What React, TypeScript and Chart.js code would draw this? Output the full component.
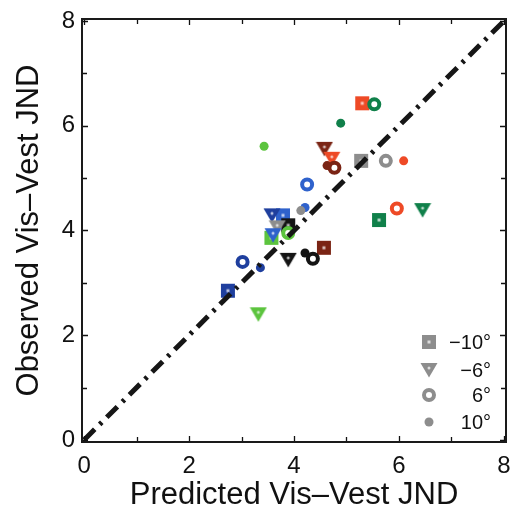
import React, { useEffect, useRef } from 'react';
import { Chart, registerables } from 'chart.js';

Chart.register(...registerables);

// ---------- data ----------
const axisMin = -0.04;
const axisMax = 8.04;
const majorTicks = [0, 2, 4, 6, 8];
const minorTicks = [1, 3, 5, 7];
const xTitle = 'Predicted Vis–Vest JND';
const yTitle = 'Observed Vis–Vest JND';
const legendLabels = ['−10°', '−6°', '6°', '10°'];

// subjects -> colours
const subjectColors: Record<string, string> = {
  red: '#ee4a26',
  maroon: '#7a2414',
  dkgreen: '#10804a',
  ltgreen: '#5cc43e',
  blue: '#2f62cc',
  navy: '#1f3f9e',
  gray: '#8d8d8d',
  black: '#141414',
};

// -10° (squares)
const sqX = [5.30, 5.28, 5.62, 4.57, 2.74, 3.79, 3.89, 3.57];
const sqY = [6.43, 5.33, 4.20, 3.67, 2.85, 4.29, 4.10, 3.86];
const sqSubj = ['red', 'gray', 'dkgreen', 'maroon', 'navy', 'blue', 'black', 'ltgreen'];

// -6° (down triangles)
const trX = [4.58, 4.72, 6.45, 3.32, 3.89, 3.58, 3.68, 3.60];
const trY = [5.56, 5.37, 4.39, 2.40, 3.44, 4.29, 4.06, 3.91];
const trSubj = ['maroon', 'red', 'dkgreen', 'ltgreen', 'black', 'navy', 'gray', 'blue'];

// 6° (rings)
const rgX = [5.53, 4.77, 5.75, 5.96, 4.25, 3.02, 3.89, 4.36];
const rgY = [6.41, 5.20, 5.33, 4.42, 4.88, 3.40, 3.95, 3.46];
const rgSubj = ['dkgreen', 'maroon', 'gray', 'red', 'blue', 'navy', 'ltgreen', 'black'];

// 10° (dots)
const dtX = [3.43, 4.89, 6.09, 4.21, 4.13, 3.36, 4.21, 4.63];
const dtY = [5.61, 6.05, 5.33, 4.44, 4.38, 3.29, 3.57, 5.24];
const dtSubj = ['ltgreen', 'dkgreen', 'red', 'blue', 'gray', 'navy', 'black', 'maroon'];

// unity line
const unityX = [0, 8];
const unityY = [0, 8];

// ---------- marker images ----------
function makeSquare(color: string): HTMLCanvasElement {
  const c = document.createElement('canvas');
  c.width = 16;
  c.height = 16;
  const g = c.getContext('2d')!;
  g.fillStyle = color;
  g.fillRect(1, 1, 14, 14);
  g.fillStyle = 'rgba(255,255,255,0.7)';
  g.fillRect(6.5, 6.5, 3, 3);
  return c;
}

function makeTriangle(color: string): HTMLCanvasElement {
  const c = document.createElement('canvas');
  c.width = 18;
  c.height = 16;
  const g = c.getContext('2d')!;
  g.fillStyle = color;
  g.beginPath();
  g.moveTo(0.5, 1);
  g.lineTo(17.5, 1);
  g.lineTo(9, 15.5);
  g.closePath();
  g.fill();
  g.fillStyle = 'rgba(255,255,255,0.7)';
  g.beginPath();
  g.arc(9, 6, 1.5, 0, Math.PI * 2);
  g.fill();
  return c;
}

const FONT = '"Liberation Sans", Arial, Helvetica, sans-serif';

export default function App() {
  const ref = useRef<HTMLCanvasElement | null>(null);

  useEffect(() => {
    const canvas = ref.current;
    if (!canvas) return;

    const sqImg: Record<string, HTMLCanvasElement> = {};
    const trImg: Record<string, HTMLCanvasElement> = {};
    Object.keys(subjectColors).forEach((k) => {
      sqImg[k] = makeSquare(subjectColors[k]);
      trImg[k] = makeTriangle(subjectColors[k]);
    });
    const legendGray = subjectColors.gray;
    const legSq = makeSquare(legendGray);
    const legTr = makeTriangle(legendGray);

    const pts = (xs: number[], ys: number[]) => xs.map((x, i) => ({ x, y: ys[i] }));

    const framePlugin = {
      id: 'frameTicks',
      afterDatasetsDraw(chart: any) {
        const { ctx, chartArea: a, scales } = chart;
        const xs = scales.x;
        const ys = scales.y;
        ctx.save();
        ctx.strokeStyle = '#111';
        ctx.lineWidth = 1.3;
        const drawTicks = (vals: number[], len: number) => {
          vals.forEach((v) => {
            const px = Math.round(xs.getPixelForValue(v)) + 0.5;
            const py = Math.round(ys.getPixelForValue(v)) + 0.5;
            ctx.beginPath();
            ctx.moveTo(px, a.bottom);
            ctx.lineTo(px, a.bottom - len);
            ctx.moveTo(px, a.top);
            ctx.lineTo(px, a.top + len);
            ctx.moveTo(a.left, py);
            ctx.lineTo(a.left + len, py);
            ctx.moveTo(a.right, py);
            ctx.lineTo(a.right - len, py);
            ctx.stroke();
          });
        };
        drawTicks(majorTicks, 6);
        drawTicks(minorTicks, 5);
        ctx.lineWidth = 2;
        ctx.strokeStyle = '#1a1a1a';
        ctx.strokeRect(a.left, a.top, a.right - a.left, a.bottom - a.top);

        // legend
        const mx = a.right - 77;
        const tx = a.right - 15;
        const rows = [a.bottom - 100, a.bottom - 72, a.bottom - 47, a.bottom - 20];
        ctx.drawImage(legSq, mx - legSq.width / 2, rows[0] - legSq.height / 2);
        ctx.drawImage(legTr, mx - legTr.width / 2, rows[1] - legTr.height / 2);
        ctx.beginPath();
        ctx.arc(mx, rows[2], 5, 0, Math.PI * 2);
        ctx.lineWidth = 4;
        ctx.strokeStyle = legendGray;
        ctx.stroke();
        ctx.beginPath();
        ctx.arc(mx, rows[3], 4.5, 0, Math.PI * 2);
        ctx.fillStyle = legendGray;
        ctx.fill();
        ctx.fillStyle = '#111';
        ctx.font = `20px ${FONT}`;
        ctx.textAlign = 'right';
        ctx.textBaseline = 'middle';
        legendLabels.forEach((t, i) => ctx.fillText(t, tx, rows[i] + 1));
        ctx.restore();
      },
    };

    const setTicks = (scale: any) => {
      scale.ticks = majorTicks.map((v) => ({ value: v }));
    };

    const chart = new Chart(canvas, {
      type: 'scatter',
      data: {
        datasets: [
          {
            type: 'line',
            data: pts(unityX, unityY),
            borderColor: '#161616',
            borderWidth: 5,
            borderDash: [15, 7, 3, 7],
            pointRadius: 0,
            showLine: true,
            fill: false,
            order: 0,
          } as any,
          {
            data: pts(dtX, dtY),
            pointStyle: 'circle',
            pointRadius: 4.5,
            pointBorderWidth: 0,
            pointBackgroundColor: dtSubj.map((s) => subjectColors[s]),
            order: 1,
          },
          {
            data: pts(rgX, rgY),
            pointStyle: 'circle',
            pointRadius: 5,
            pointBorderWidth: 4,
            pointBackgroundColor: '#ffffff',
            pointBorderColor: rgSubj.map((s) => subjectColors[s]),
            order: 2,
          },
          {
            data: pts(trX, trY),
            pointStyle: trSubj.map((s) => trImg[s]),
            order: 3,
          },
          {
            data: pts(sqX, sqY),
            pointStyle: sqSubj.map((s) => sqImg[s]),
            order: 4,
          },
        ],
      },
      options: {
        animation: false,
        responsive: false,
        events: [],
        layout: { padding: { top: 19, right: 11, left: 0, bottom: 0 } },
        plugins: { legend: { display: false }, tooltip: { enabled: false } },
        scales: {
          x: {
            type: 'linear',
            min: axisMin,
            max: axisMax,
            afterBuildTicks: setTicks,
            grid: { display: false, drawTicks: false },
            border: { display: false },
            ticks: {
              padding: 10,
              color: '#111',
              font: { family: FONT, size: 24 },
            },
            title: {
              display: true,
              text: xTitle,
              color: '#111',
              font: { family: FONT, size: 31 },
              padding: { top: 0, bottom: 0 },
            },
            afterFit(scale: any) {
              scale.height = 72;
              scale.paddingLeft = 0;
              scale.paddingRight = 0;
            },
          },
          y: {
            type: 'linear',
            min: axisMin,
            max: axisMax,
            afterBuildTicks: setTicks,
            grid: { display: false, drawTicks: false },
            border: { display: false },
            ticks: {
              padding: 7,
              color: '#111',
              font: { family: FONT, size: 24 },
            },
            title: {
              display: true,
              text: yTitle,
              color: '#111',
              font: { family: FONT, size: 31 },
              padding: { top: 11, bottom: 0 },
            },
            afterFit(scale: any) {
              scale.width = 82;
              scale.paddingTop = 0;
              scale.paddingBottom = 0;
            },
          },
        },
      },
      plugins: [framePlugin],
    } as any);

    return () => chart.destroy();
  }, []);

  return (
    <div style={{ position: 'fixed', left: 0, top: 0, width: 517, height: 514, background: '#fff' }}>
      <canvas ref={ref} width={517} height={514} style={{ display: 'block' }} />
    </div>
  );
}
